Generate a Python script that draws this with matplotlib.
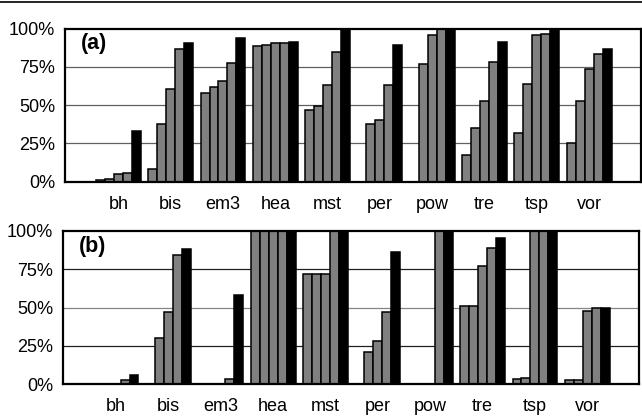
import numpy as np
import matplotlib
matplotlib.use('Agg')
import matplotlib.pyplot as plt
from matplotlib.lines import Line2D

plt.rcParams['font.family'] = ['Liberation Sans', 'DejaVu Sans']

categories = ['bh', 'bis', 'em3', 'hea', 'mst', 'per', 'pow', 'tre', 'tsp', 'vor']
yticks = [0, 25, 50, 75, 100]
ytick_labels = ['0%', '25%', '50%', '75%', '100%']

# panel (a): five series per benchmark, last one is the black bar
a_s1 = [1, 8.5, 58, 88.5, 47, 0, 0, 17.5, 31.5, 25.5]
a_s2 = [2, 37.5, 62, 89.3, 49.5, 38, 77, 35, 64, 52.5]
a_s3 = [5, 60.5, 66, 90.5, 63, 40.5, 95.5, 52.5, 95.5, 73.5]
a_s4 = [6, 86.5, 77.5, 90.5, 85, 63, 100, 78, 96.3, 83.5]
a_s5 = [33, 90.5, 94, 91, 100, 89, 100, 91.3, 99, 86.5]

# panel (b)
b_s1 = [0, 0, 0, 100, 72, 0, 0, 51, 3.5, 3]
b_s2 = [0, 30, 0, 100, 72, 21, 0, 51, 4, 3]
b_s3 = [0, 47, 0.5, 100, 72, 28, 0, 77, 100, 48]
b_s4 = [3, 84, 3.5, 100, 100, 47, 100, 89, 100, 49.5]
b_s5 = [6, 88, 58, 100, 100, 86, 100, 95.5, 100, 50]


def draw_panel(ax, series, tag, grid_colors):
    x = np.arange(len(categories))
    w = 0.171
    for i, vals in enumerate(series):
        last = i == len(series) - 1
        ax.bar(x + (i - 2) * w, vals, width=w,
               color='black' if last else '#808080',
               edgecolor='black', linewidth=1.1, zorder=2)
    for y, c in zip([25, 50, 75], grid_colors):
        ax.axhline(y, color=c, linewidth=0.9, zorder=1)
    ax.set_xlim(-1.02, 9.99)
    ax.set_ylim(0, 100)
    ax.set_yticks(yticks)
    ax.set_yticklabels(ytick_labels)
    ax.set_xticks(x)
    ax.set_xticklabels(categories)
    ax.tick_params(axis='both', length=0, labelsize=13)
    ax.tick_params(axis='y', pad=7)
    ax.tick_params(axis='x', pad=10)
    for s in ax.spines.values():
        s.set_linewidth(1.6)
        s.set_color('black')
    ax.text(0.028, 0.9, tag, transform=ax.transAxes, fontsize=15.5,
            fontweight='bold', ha='left', va='center')


fig = plt.figure(figsize=(6.42, 4.19), dpi=100)
ax1 = fig.add_axes([0.1012, 0.5663, 0.8972, 0.3656])
ax2 = fig.add_axes([0.0977, 0.0828, 0.8977, 0.3666])

draw_panel(ax1, [a_s1, a_s2, a_s3, a_s4, a_s5], '(a)',
           ['#606060', '#606060', '#606060'])
draw_panel(ax2, [b_s1, b_s2, b_s3, b_s4, b_s5], '(b)',
           ['#202020', '#858585', '#202020'])

# rule across the top of the figure
fig.add_artist(Line2D([0, 1], [0.9955, 0.9955], color='black',
                      linewidth=1.2, transform=fig.transFigure))

fig.savefig('out.png', dpi=100)
